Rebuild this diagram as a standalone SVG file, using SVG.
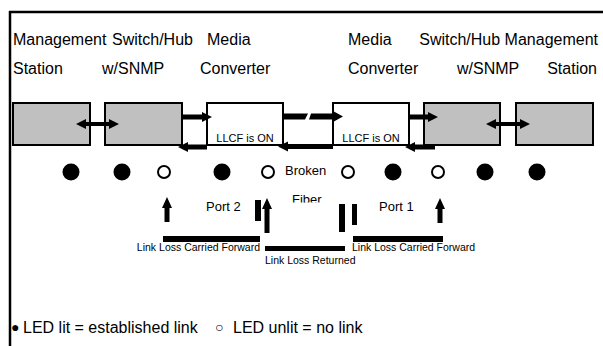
<svg xmlns="http://www.w3.org/2000/svg" width="603" height="346" viewBox="0 0 603 346">
<style>
text{font-family:"Liberation Sans",Arial,sans-serif;fill:#000}
.lbl{font-size:16px}
.sm{font-size:11px}
.md{font-size:13px}
.cap{font-size:10.5px}
.gray{fill:#c0c0c0;stroke:#000;stroke-width:2}
.white{fill:#fff;stroke:#000;stroke-width:2}
.arr{fill:#000;stroke:none}
.on{fill:#000}
.off{fill:#fff;stroke:#000;stroke-width:2}
</style>
<defs>
<clipPath id="fiberClip"><rect x="280" y="190" width="60" height="12.5"/></clipPath>
</defs>
<rect x="0" y="0" width="603" height="346" fill="#fff"/>
<g id="frame" stroke="#000" stroke-width="2.5" fill="none">
<line x1="9" y1="12" x2="603" y2="12"/>
<line x1="10" y1="11" x2="10" y2="346"/>
</g>
<g id="headers">
<text class="lbl" x="13" y="45">Management</text>
<text class="lbl" x="13" y="74">Station</text>
<text class="lbl" x="112" y="45">Switch/Hub</text>
<text class="lbl" x="102" y="74">w/SNMP</text>
<text class="lbl" x="207" y="45">Media</text>
<text class="lbl" x="200" y="74">Converter</text>
<text class="lbl" x="348" y="45">Media</text>
<text class="lbl" x="348" y="74">Converter</text>
<text class="lbl" x="598" y="45" text-anchor="end">Switch/Hub Management</text>
<text class="lbl" x="457" y="74">w/SNMP</text>
<text class="lbl" x="597" y="74" text-anchor="end">Station</text>
</g>
<g id="mgmt-left"><rect class="gray" x="13" y="103" width="77" height="42"/></g>
<g id="switch-left"><rect class="gray" x="105" y="103" width="77" height="42"/></g>
<g id="mc-left"><rect class="white" x="207" y="103" width="76" height="42"/><text class="sm" x="245" y="142" text-anchor="middle">LLCF is ON</text></g>
<g id="mc-right"><rect class="white" x="333" y="103" width="76" height="42"/><text class="sm" x="371" y="142" text-anchor="middle">LLCF is ON</text></g>
<g id="switch-right"><rect class="gray" x="424" y="103" width="76" height="42"/></g>
<g id="mgmt-right"><rect class="gray" x="516" y="103" width="77" height="42"/></g>
<g id="connectors" class="arr">
<path d="M76,124 L86,119 L86,122 L109,122 L109,119 L119,124 L109,129 L109,126 L86,126 L86,129 Z"/>
<path d="M486,124 L496,119 L496,122 L520,122 L520,119 L530,124 L520,129 L520,126 L496,126 L496,129 Z"/>
<path d="M182,114.5 L202,114.5 L202,112 L212,117 L202,122 L202,119.5 L182,119.5 Z"/>
<path d="M207,144.5 L188,144.5 L188,142 L178,147 L188,152 L188,149.5 L207,149.5 Z"/>
<path d="M283,113.5 L308,113.5 L305,119.5 L283,119.5 Z"/>
<path d="M311,113.5 L333,113.5 L333,111 L343,116.5 L333,122 L333,119.5 L309,119.5 Z"/>
<path d="M333,144 L288,144 L288,141.5 L278,146.5 L288,151.5 L288,149 L333,149 Z"/>
<path d="M409,114.5 L428,114.5 L428,112 L438,117 L428,122 L428,119.5 L409,119.5 Z"/>
<path d="M435,144.5 L415,144.5 L415,142 L405,147 L415,152 L415,149.5 L435,149.5 Z"/>
<path d="M164.5,222 L164.5,208 L162,208 L167,197 L172,208 L169.5,208 L169.5,222 Z"/>
<path d="M264.5,233 L264.5,209 L262,209 L267,198 L272,209 L269.5,209 L269.5,233 Z"/>
<path d="M437.5,223 L437.5,209 L435,209 L440,198 L445,209 L442.5,209 L442.5,223 Z"/>
<rect x="255" y="200" width="6" height="21"/>
<rect x="339" y="204" width="6" height="28"/>
<rect x="352" y="204" width="5" height="21"/>
<rect x="163" y="236" width="97" height="6"/>
<rect x="265" y="246" width="80" height="5"/>
<rect x="353" y="236" width="90" height="6"/>
</g>
<g id="leds">
<circle class="on" cx="71" cy="172" r="8.5"/>
<circle class="on" cx="122" cy="172" r="8.5"/>
<circle class="off" cx="164" cy="172" r="6"/>
<circle class="on" cx="222" cy="172" r="8.5"/>
<circle class="off" cx="268" cy="172" r="6"/>
<circle class="off" cx="348" cy="172" r="6"/>
<circle class="on" cx="393" cy="172" r="8.5"/>
<circle class="off" cx="438" cy="172" r="6"/>
<circle class="on" cx="485" cy="172" r="8.5"/>
<circle class="on" cx="537" cy="172" r="8.5"/>
</g>
<g id="labels">
<text class="md" x="285" y="175">Broken</text>
<text class="md" x="292" y="204" clip-path="url(#fiberClip)">Fiber</text>
<text class="md" x="206" y="211">Port 2</text>
<text class="md" x="379" y="211">Port 1</text>
<text class="cap" x="260" y="251" text-anchor="end">Link Loss Carried Forward</text>
<text class="cap" x="265" y="264">Link Loss Returned</text>
<text class="cap" x="352" y="251">Link Loss Carried Forward</text>
</g>
<g id="legend">
<text class="lbl" y="333"><tspan x="11" font-size="14" dy="-1">●</tspan><tspan x="23" dy="1">LED lit = established link</tspan><tspan x="215" font-size="14" dy="-1">○</tspan><tspan x="233" dy="1">LED unlit = no link</tspan></text>
</g>
</svg>
